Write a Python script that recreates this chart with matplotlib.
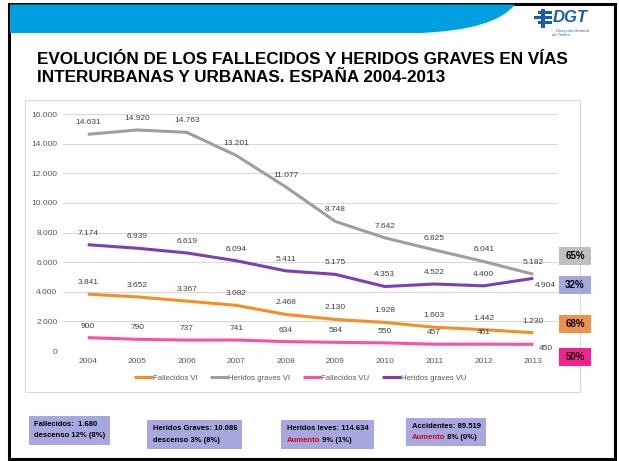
import matplotlib
matplotlib.use("Agg")
import matplotlib.pyplot as plt
from matplotlib.patches import Rectangle, PathPatch
from matplotlib.path import Path
from matplotlib.ticker import FuncFormatter

years = ["2004", "2005", "2006", "2007", "2008", "2009", "2010", "2011", "2012", "2013"]
fallecidos_vi = [3841, 3652, 3367, 3082, 2468, 2130, 1928, 1603, 1442, 1230]
heridos_vi = [14631, 14920, 14763, 13201, 11077, 8748, 7642, 6825, 6041, 5182]
fallecidos_vu = [900, 790, 737, 741, 634, 584, 550, 457, 461, 450]
heridos_vu = [7174, 6939, 6619, 6094, 5411, 5175, 4353, 4522, 4400, 4904]
series_names = ["Fallecidos VI", "Heridos graves VI", "Fallecidos VU", "Heridos graves VU"]
pct_labels = ["65%", "32%", "68%", "50%"]
title_lines = ["EVOLUCIÓN DE LOS FALLECIDOS Y HERIDOS GRAVES EN VÍAS",
               "INTERURBANAS Y URBANAS. ESPAÑA 2004-2013"]

W, H = 619, 461
plt.rcParams['font.family'] = ['Liberation Sans', 'DejaVu Sans']
fig = plt.figure(figsize=(W / 100, H / 100), dpi=100)

def fx(x):
    return x / W

def fy(y):
    return 1 - y / H

def frect(x0, y0, x1, y1, **kw):
    r = Rectangle((fx(x0), fy(y1)), fx(x1) - fx(x0), fy(y0) - fy(y1),
                  transform=fig.transFigure, **kw)
    fig.add_artist(r)
    return r

# slide frame
frect(9, 4, 615, 459, facecolor="white", edgecolor="black", linewidth=2.2, zorder=0)

# blue header swoosh
verts = [(fx(10), fy(4.5)), (fx(515), fy(4.5)),
         (fx(495), fy(30)), (fx(420), fy(33)),
         (fx(10), fy(33)), (fx(10), fy(4.5))]
codes = [Path.MOVETO, Path.LINETO, Path.CURVE3, Path.CURVE3, Path.LINETO, Path.CLOSEPOLY]
fig.add_artist(PathPatch(Path(verts, codes), facecolor="#009FE0", edgecolor="none",
                         transform=fig.transFigure, zorder=1))

# DGT logo
fig.text(fx(553), fy(18), "DGT", fontsize=12, fontweight="bold", style="italic",
         color="#1A5DAD", va="center", ha="left")
for yy, ww in [(13, 14), (18, 18), (23, 14)]:
    frect(534 + (18 - ww), yy - 1.5, 552, yy + 1.5, facecolor="#1A5DAD", edgecolor="none", zorder=2)
frect(541, 9, 545, 28, facecolor="#1A5DAD", edgecolor="none", zorder=2)
fig.text(fx(556), fy(31), "Dirección General", fontsize=3, style="italic",
         color="#1A5DAD", va="center", ha="left")
fig.text(fx(552), fy(35.5), "de Tráfico", fontsize=3, style="italic",
         color="#1A5DAD", va="center", ha="left")

# title
fig.text(fx(37), fy(60), title_lines[0], fontsize=12.3, fontweight="bold",
         color="black", va="center", ha="left")
fig.text(fx(37), fy(77), title_lines[1], fontsize=12.3, fontweight="bold",
         color="black", va="center", ha="left")

# chart panel
frect(25, 100, 580, 392, facecolor="white", edgecolor="#D9D9D9", linewidth=0.8, zorder=1)

x0, x1 = 63, 558
ytop, ybot = 114, 351
ax = fig.add_axes([fx(x0), fy(ybot), fx(x1) - fx(x0), fy(ytop) - fy(ybot)])
ax.set_zorder(3)
ax.patch.set_alpha(0)
xs = list(range(len(years)))
ax.set_xlim(-0.5, len(years) - 0.5)
ax.set_ylim(0, 16000)
ax.set_yticks(range(0, 16001, 2000))
ax.yaxis.set_major_formatter(FuncFormatter(lambda v, p: f"{int(v):,}".replace(",", ".")))
ax.set_xticks(xs)
ax.set_xticklabels(years)
for s in ax.spines.values():
    s.set_visible(False)
ax.grid(axis="y", color="#D9D9D9", linewidth=0.8)
ax.set_axisbelow(True)
ax.tick_params(length=0, labelsize=6, labelcolor="#595959")
ax.tick_params(axis="x", pad=5)
ax.tick_params(axis="y", pad=4)

colors = ["#F39023", "#9E9E9E", "#FF4FA5", "#7D3FB5"]
datasets = [fallecidos_vi, heridos_vi, fallecidos_vu, heridos_vu]
for data, col, name in zip(datasets, colors, series_names):
    ax.plot(xs, data, color=col, linewidth=2.2, label=name, solid_capstyle="butt")

def fmt(v):
    return f"{v:,}".replace(",", ".")

for di, data in enumerate(datasets):
    for i, v in enumerate(data):
        if i == len(data) - 1 and di in (2, 3):
            off = (1, -2.5) if di == 3 else (4, -0.5)
            ax.annotate(fmt(v), (xs[i], v), xytext=off, textcoords="offset points",
                        ha="left", va="top", fontsize=6, color="#404040")
        else:
            ax.annotate(fmt(v), (xs[i], v), xytext=(0, 8.3), textcoords="offset points",
                        ha="center", va="center", fontsize=6, color="#404040")

fig.legend(*ax.get_legend_handles_labels(), loc="center", bbox_to_anchor=(fx(300), fy(378)),
           ncol=4, frameon=False, fontsize=5.6, labelcolor="#595959", handlelength=2.4,
           handletextpad=0.0, columnspacing=1.6)

# percent boxes
pct_colors = ["#BFBFBF", "#A6A6DE", "#EF924C", "#F5228C"]
pct_y = [256, 285, 324, 357]
for lab, col, yc in zip(pct_labels, pct_colors, pct_y):
    frect(559, yc - 9, 591, yc + 9, facecolor=col, edgecolor="none", zorder=4)
    fig.text(fx(575), fy(yc), lab, fontsize=7, fontweight="bold", color="black",
             ha="center", va="center", zorder=5)

# bottom summary boxes
box_col = "#A8A8E0"
boxes = [(29, 416, 110, 445), (147, 420, 242, 449), (281, 420, 374, 449), (406, 418, 486, 446)]
for (bx0, by0, bx1, by1) in boxes:
    frect(bx0, by0, bx1, by1, facecolor=box_col, edgecolor="none", zorder=2)

fs = 5.5
def two_tone(x, y, red, rest):
    t = fig.text(fx(x), fy(y), red, fontsize=fs, fontweight="bold", color="#D0021B",
                 va="center", zorder=3)
    ax.annotate(rest, xy=(1, 0.5), xycoords=t, ha="left", va="center", fontsize=fs,
                fontweight="bold", color="black", annotation_clip=False, zorder=3)

fig.text(fx(34), fy(424), "Fallecidos:  1.680", fontsize=fs, fontweight="bold", va="center", zorder=3)
fig.text(fx(34), fy(435.5), "descenso 12% (8%)", fontsize=fs, fontweight="bold", va="center", zorder=3)
fig.text(fx(153), fy(428), "Heridos Graves: 10.086", fontsize=fs, fontweight="bold", va="center", zorder=3)
fig.text(fx(153), fy(440), "descenso 3% (8%)", fontsize=fs, fontweight="bold", va="center", zorder=3)
fig.text(fx(287), fy(428), "Heridos leves: 114.634", fontsize=fs, fontweight="bold", va="center", zorder=3)
two_tone(287, 440, "Aumento", " 9% (1%)")
fig.text(fx(412), fy(426.5), "Accidentes: 89.519", fontsize=fs, fontweight="bold", va="center", zorder=3)
two_tone(412, 437.5, "Aumento", " 8% (0%)")

fig.savefig("out.png", dpi=100)
